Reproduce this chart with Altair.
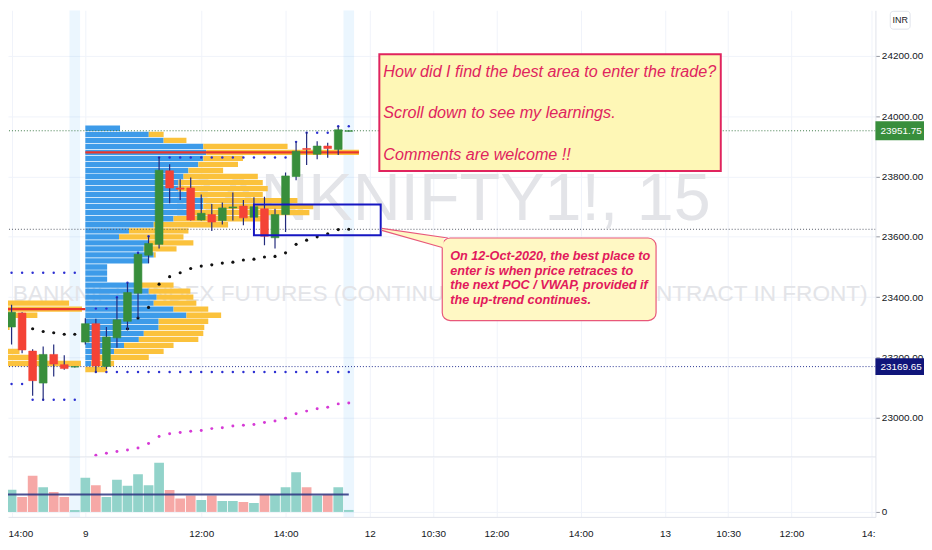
import altair as alt
import pandas as pd

N = None
# ------------------------------------------------------------------ data
# bar index: 0 = 09:15 bar of 9-Oct, negatives = 8-Oct afternoon
BAR_IDX = list(range(-8, 26))
OPEN = [23446, 23301, 23347, 23221, 23115, 23210, 23176, 23168,
        23251, 23312, 23170, 23265, 23320, 23413, 23539, 23575, 23819, 23762,
        23762, 23656, 23674, 23654, 23696, 23702, 23665, 23693, 23597, 23674,
        23800, 23893, 23874, 23901, 23890, 23950]
HIGH = [23479, 23375, 23350, 23227, 23236, 23243, 23207, 23171,
        23330, 23328, 23301, 23400, 23448, 23547, 23602, 23865, 23841, 23791,
        23797, 23740, 23709, 23714, 23747, 23722, 23731, 23733, 23693, 23813,
        23915, 23948, 23917, 23912, 23967, 23953]
LOW = [23205, 23243, 23214, 23073, 23057, 23137, 23159, 23167,
       23243, 23150, 23161, 23232, 23290, 23331, 23512, 23561, 23711, 23722,
       23654, 23654, 23619, 23641, 23654, 23638, 23632, 23572, 23561, 23616,
       23788, 23838, 23857, 23862, 23871, 23949]
CLOSE = [23309, 23350, 23225, 23123, 23210, 23178, 23163, 23169.65,
         23312, 23172, 23268, 23325, 23415, 23542, 23578, 23821, 23762, 23758,
         23656, 23678, 23649, 23696, 23699, 23663, 23700, 23602, 23674, 23802,
         23884, 23890, 23901, 23893, 23955, 23951.75]
VOLUME = [76, 45, 30, 73, 50, 40, 30, 4,
          69, 54, 30, 65, 53, 76, 54, 99, 44, 27, 33, 24, 33, 22, 22, 20, 18,
          35, 35, 50, 80, 50, 33, 35, 50, 4]
VOL_MA = [35, 35, 35, 35, 35, 35, 35, 35,
          35, 35, 35, 35, 35, 35, 35, 35, 35, 35, 35, 35, 35, 35, 35, 35, 35,
          35, 35, 35, 35, 35, 35, 35, 35, 35]
DAY_HIGH = [23481, 23481, 23481, 23481, 23481, 23481, 23481, 23481,
            N, 23362, 23362, 23400, 23448, 23547, 23602,
            23863, 23863, 23863, 23863, 23863, 23863, 23863, 23863, 23863,
            23863, 23863, 23863, 23863,
            23915, 23945, 23945, 23945, 23967, 23967]
DAY_LOW = [23112, 23112, 23112, 23060, 23060, 23060, 23060, 23060,
           N, 23152, 23152, 23152, 23152, 23152, 23152, 23152, 23152, 23152,
           23152, 23152, 23152, 23152, 23152, 23152, 23152, 23152, 23152,
           23152, 23152, 23152, 23152, 23152, 23152, 23152]
VWAP = [N, N, N, 23295, 23286, 23282, 23277, 23277,
        N, N, N, N, 23295, 23331, 23366, 23443, 23468, 23481, 23495, 23503,
        23507, 23513, 23516, 23523, 23526, 23533, 23535, 23547, 23575, 23589,
        23600, 23610, 23624, 23625]
WEEK_VWAP = [N, N, N, N, N, N, N, N,
             N, 22876, 22882, 22888, 22893, 22900, 22915, 22938, 22947, 22951,
             22955, 22958, 22964, 22967, 22973, 22975, 22978, 22984, 22989,
             22998, 23013, 23022, 23030, 23035, 23046, 23049]

# session volume profile, 9-Oct (price rows, up / down volume)
PROFILE_PRICE = [23960, 23940, 23920, 23900, 23880, 23860, 23840, 23820, 23800,
                 23780, 23760, 23740, 23720, 23700, 23680, 23660, 23640, 23620,
                 23600, 23580, 23560, 23540, 23520, 23500, 23480, 23460, 23440,
                 23420, 23400, 23380, 23360, 23340, 23320, 23300, 23280, 23260,
                 23240, 23220, 23200, 23180, 23160]
PROFILE_UP = [35, 64, 79, 119, 122, 119, 114, 104, 99, 94, 94, 104, 119, 119,
              104, 89, 69, 44, 34, 64, 59, 69, 64, 22, 22, 22, 54, 64, 72, 69,
              89, 102, 74, 74, 59, 54, 39, 29, 14, 6, 0]
PROFILE_DN = [0, 15, 23, 85, 154, 40, 40, 35, 75, 85, 90, 75, 95, 111, 122, 95,
              75, 60, 65, 45, 33, 2, 0, 0, 0, 0, 35, 42, 37, 43, 35, 35, 50, 46,
              60, 60, 50, 50, 50, 23, 22]
PROFILE_START = 0
POC_9 = 23880
# 8-Oct profile (only its longest rows reach into view)
PROFILE8_PRICE = [23380, 23360, 23340, 23300, 23220, 23200, 23180]
PROFILE8_UP = [188, 188, 188, 188, 188, 188, 188]
PROFILE8_DN = [72, 85, 40, 12, 22, 47, 84]
PROFILE8_START = -26
POC_8 = 23360
UNITS_PER_BAR = 10.63

SESSION_END_BARS = [-1, 25]
LAST_PRICE = 23951.75
PREV_CLOSE = 23169.65
VWAP_LINE = 23625

X_TICKS = [-7, 0, 11, 19, 27, 33, 39, 47, 55, 61, 67, 74.6]
X_LABELS = ["14:00", "9", "12:00", "14:00", "12", "10:30", "12:00", "14:00",
            "13", "10:30", "12:00", "14:"]
P_TICKS = [23000, 23200, 23400, 23600, 23800, 24000, 24200]
X_DOMAIN = [-7.338, 74.976]
P_DOMAIN = [22871.8, 24351.2]
V_DOMAIN = [-10, 112]

BOX_X = [16.0, 28.03]
BOX_P = [23706.9, 23604.9]
NOTE_X = [27.9, 60.3]
NOTE_P = [24205.6, 23818.6]
NOTE_LINES = ["How did I find the best area to enter the trade?",
              "Scroll down to see my learnings.",
              "Comments are welcome !!"]
NOTE_LINE_P = [24147.4, 24010.3, 23870.2]
CALL_X = [33.87, 54.16]
CALL_P = [23596.1, 23322.2]
CALL_LINES = ["On 12-Oct-2020, the best place to",
              "enter is when price retraces to",
              "the next POC / VWAP, provided if",
              "the up-trend continues."]
CALL_LINE_P = [23536.9, 23486.6, 23440.6, 23391.2]
PTR_X = [28.13, 34.01]
PTR_TOP = [23627.9, 23598.0]
PTR_BOT = [23621.4, 23563.0]
PTR_EDGE_X = [28.13, 34.40, 28.13, 33.87]
PTR_EDGE_P = [23627.9, 23596.1, 23621.4, 23564.5]
PTR_EDGE_ID = ["top", "top", "bot", "bot"]

WATERMARK_1 = "BANKNIFTY1!, 15"
WATERMARK_2 = "BANKNIFTY INDEX FUTURES (CONTINUOUS: CURRENT CONTRACT IN FRONT)"

# ------------------------------------------------------------------ style
FONT = "Liberation Sans, Arial, sans-serif"
TXT = "#131722"
GRID = "#f0f3fa"
BORDER = "#e0e3eb"
GREEN = "#388e3c"
RED = "#f44336"
TEAL = "#92d3ca"
PINK = "#f6a8a6"
WICK = "#232b7d"
CRIMSON = "#e0245e"
W, HP, HV = 875, 450, 61

XS = alt.Scale(domain=X_DOMAIN, nice=False, zero=False)
PS = alt.Scale(domain=P_DOMAIN, nice=False, zero=False)
VS = alt.Scale(domain=V_DOMAIN, nice=False, zero=False)

label_expr = "[" + ",".join("'%s'" % s for s in X_LABELS) + "][indexof([" + \
    ",".join(str(v) for v in X_TICKS) + "], datum.value)]"

AX_XP = alt.Axis(values=X_TICKS, labels=False, ticks=False, domain=True,
                 domainColor=BORDER, grid=True, gridColor=GRID, title=None,
                 minExtent=0, maxExtent=0)
AX_YP = alt.Axis(orient="right", values=P_TICKS, format=".2f",
                 labelFont=FONT, labelFontSize=10, labelColor=TXT,
                 tickColor="#9598a1", tickSize=4, labelPadding=2,
                 domain=True, domainColor=BORDER, grid=True, gridColor=GRID,
                 title=None, minExtent=49, maxExtent=49, labelOverlap=False)
AX_XV = alt.Axis(values=X_TICKS, labelExpr=label_expr, ticks=False, domain=True,
                 domainColor=BORDER, grid=True, gridColor=GRID, title=None,
                 labelFont=FONT, labelFontSize=10, labelColor=TXT,
                 labelPadding=12, labelFlush=6, labelFlushOffset=3.5,
                 labelOverlap=False, minExtent=23, maxExtent=23)
AX_YV = alt.Axis(orient="right", values=[0], labelFont=FONT, labelFontSize=10,
                 labelColor=TXT, tickColor="#9598a1", tickSize=4, labelPadding=2,
                 domain=True, domainColor=BORDER, grid=True, gridColor=GRID,
                 title=None, minExtent=49, maxExtent=49)


def xp(field):
    return alt.X(field, type="quantitative", scale=XS, axis=AX_XP)


def yp(field):
    return alt.Y(field, type="quantitative", scale=PS, axis=AX_YP)


def xv(field):
    return alt.X(field, type="quantitative", scale=XS, axis=AX_XV)


def yv(field):
    return alt.Y(field, type="quantitative", scale=VS, axis=AX_YV)


# ------------------------------------------------------------------ frames
candles = pd.DataFrame(dict(idx=BAR_IDX, open=OPEN, high=HIGH, low=LOW,
                            close=CLOSE, vol=VOLUME, ma=VOL_MA))
candles["body"] = [GREEN if c >= o else RED for o, c in zip(OPEN, CLOSE)]
candles["vcol"] = [TEAL if c >= o else PINK for o, c in zip(OPEN, CLOSE)]
candles["zero"] = 0

bands = pd.DataFrame(dict(idx=SESSION_END_BARS))


def profile_frame(prices, ups, dns, start):
    rows = []
    for p, u, d in zip(prices, ups, dns):
        rows.append(dict(price=p, xa=start, xb=start + u / UNITS_PER_BAR,
                         xc=start + (u + d) / UNITS_PER_BAR))
    return pd.DataFrame(rows)


prof = pd.concat([profile_frame(PROFILE_PRICE, PROFILE_UP, PROFILE_DN, PROFILE_START),
                  profile_frame(PROFILE8_PRICE, PROFILE8_UP, PROFILE8_DN, PROFILE8_START)])
poc = pd.DataFrame(dict(x0=[PROFILE8_START, PROFILE_START],
                        x1=[PROFILE_START, PROFILE_START + (PROFILE_UP[4] + PROFILE_DN[4]) / UNITS_PER_BAR],
                        price=[POC_8, POC_9]))


def dot_frame(arr):
    return pd.DataFrame([dict(idx=i, price=v) for i, v in zip(BAR_IDX, arr) if v is not None])


price_lines = pd.DataFrame(dict(price=[LAST_PRICE, VWAP_LINE, PREV_CLOSE],
                                col=["#3f7a49", "#555a66", "#283593"]))
one = pd.DataFrame(dict(k=[0]))

# ------------------------------------------------------------------ price pane
band_l = alt.Chart(bands).mark_rect(color="#2196f3", opacity=0.09, clip=True).encode(
    x=xp("x0:Q"), x2="x1:Q").transform_calculate(x0="datum.idx - 0.5", x1="datum.idx + 0.5")

wm1 = alt.Chart(one).mark_text(text=WATERMARK_1, font=FONT, fontSize=67,
                               color="#e3e4e8", align="center", baseline="alphabetic",
                               clip=True).encode(x=alt.value(437), y=alt.value(212))
wm2 = alt.Chart(one).mark_text(text=WATERMARK_2, font=FONT, fontSize=22.8,
                               color="#e3e4e8", align="center", baseline="alphabetic",
                               clip=True).encode(x=alt.value(436), y=alt.value(293))

prof_up = alt.Chart(prof).mark_rect(color="#3d9be9", clip=True).encode(
    x=xp("xa:Q"), x2="xb:Q", y=yp("p0:Q"), y2="p1:Q").transform_calculate(
    p0="datum.price - 8.8", p1="datum.price + 8.8")
prof_dn = alt.Chart(prof).mark_rect(color="#fbc23c", clip=True).encode(
    x=xp("xb:Q"), x2="xc:Q", y=yp("p0:Q"), y2="p1:Q").transform_calculate(
    p0="datum.price - 8.8", p1="datum.price + 8.8")
poc_l = alt.Chart(poc).mark_rule(color="#e8362c", strokeWidth=2.2, clip=True).encode(
    x=xp("x0:Q"), x2="x1:Q", y=yp("price:Q"))

plines = alt.Chart(price_lines).mark_rule(strokeDash=[1, 2], strokeWidth=1, clip=True).encode(
    y=yp("price:Q"), color=alt.Color("col:N", scale=None))

dot_mag = alt.Chart(dot_frame(WEEK_VWAP)).mark_point(filled=True, size=9, color="#d63ad6",
                                                     opacity=1, clip=True).encode(
    x=xp("idx:Q"), y=yp("price:Q"))
dot_vwap = alt.Chart(dot_frame(VWAP)).mark_point(filled=True, size=10, color="#111111",
                                                 opacity=1, clip=True).encode(
    x=xp("idx:Q"), y=yp("price:Q"))
dot_hi = alt.Chart(dot_frame(DAY_HIGH)).mark_point(filled=True, size=6, color="#2c2fd2",
                                                   opacity=1, clip=True).encode(
    x=xp("idx:Q"), y=yp("price:Q"))
dot_lo = alt.Chart(dot_frame(DAY_LOW)).mark_point(filled=True, size=6, color="#2c2fd2",
                                                  opacity=1, clip=True).encode(
    x=xp("idx:Q"), y=yp("price:Q"))

wicks = alt.Chart(candles).mark_rule(color=WICK, strokeWidth=1.2, clip=True).encode(
    x=xp("idx:Q"), y=yp("low:Q"), y2="high:Q")
bodies = alt.Chart(candles).mark_rect(strokeWidth=0.6, clip=True).encode(
    x=xp("bx0:Q"), x2="bx1:Q", y=yp("open:Q"), y2="close:Q",
    fill=alt.Color("body:N", scale=None), stroke=alt.Color("body:N", scale=None)
).transform_calculate(bx0="datum.idx - 0.37", bx1="datum.idx + 0.37")

box = alt.Chart(pd.DataFrame(dict(x0=[BOX_X[0]], x1=[BOX_X[1]], p0=[BOX_P[0]], p1=[BOX_P[1]]))
                ).mark_rect(fill="transparent", stroke="#1616c2", strokeWidth=2, clip=True).encode(
    x=xp("x0:Q"), x2="x1:Q", y=yp("p0:Q"), y2="p1:Q")

note_box = alt.Chart(pd.DataFrame(dict(x0=[NOTE_X[0]], x1=[NOTE_X[1]], p0=[NOTE_P[0]], p1=[NOTE_P[1]]))
                     ).mark_rect(fill="#fef7b6", stroke=CRIMSON, strokeWidth=2).encode(
    x=xp("x0:Q"), x2="x1:Q", y=yp("p0:Q"), y2="p1:Q")
note_txt = alt.Chart(pd.DataFrame(dict(x=[NOTE_X[0]] * 3, price=NOTE_LINE_P, t=NOTE_LINES))
                     ).mark_text(align="left", baseline="middle", dx=4, font=FONT,
                                 fontStyle="italic", fontSize=16.3, color=CRIMSON).encode(
    x=xp("x:Q"), y=yp("price:Q"), text="t:N")

call_box = alt.Chart(pd.DataFrame(dict(x0=[CALL_X[0]], x1=[CALL_X[1]], p0=[CALL_P[0]], p1=[CALL_P[1]]))
                     ).mark_rect(fill="#fff8c4", stroke="#e8587a", strokeWidth=1.2,
                                 cornerRadius=8).encode(
    x=xp("x0:Q"), x2="x1:Q", y=yp("p0:Q"), y2="p1:Q")
ptr_area = alt.Chart(pd.DataFrame(dict(x=PTR_X, top=PTR_TOP, bot=PTR_BOT))
                     ).mark_area(color="#fff8c4", opacity=1).encode(
    x=xp("x:Q"), y=yp("top:Q"), y2="bot:Q")
ptr_edges = alt.Chart(pd.DataFrame(dict(x=PTR_EDGE_X, price=PTR_EDGE_P, edge=PTR_EDGE_ID))
                      ).mark_line(color="#e8587a", strokeWidth=1.2).encode(
    x=xp("x:Q"), y=yp("price:Q"), detail="edge:N")
call_txt = alt.Chart(pd.DataFrame(dict(x=[CALL_X[0]] * 4, price=CALL_LINE_P, t=CALL_LINES))
                     ).mark_text(align="left", baseline="middle", dx=8, font=FONT,
                                 fontStyle="italic", fontWeight="bold", fontSize=12.8,
                                 color="#e2195c").encode(
    x=xp("x:Q"), y=yp("price:Q"), text="t:N")

tags = pd.DataFrame(dict(price=[LAST_PRICE, PREV_CLOSE], half=[31.2, 28.0],
                         label=["23951.75", "23169.65"], col=[GREEN, "#10157a"]))
tag_box = alt.Chart(tags).mark_rect(clip=False).encode(
    x=alt.value(875), x2=alt.value(924), y=yp("p0:Q"), y2="p1:Q",
    fill=alt.Color("col:N", scale=None)).transform_calculate(
    p0="datum.price + datum.half", p1="datum.price - datum.half")
tag_txt = alt.Chart(tags).mark_text(align="left", baseline="middle", font=FONT,
                                    fontSize=10, color="white", clip=False).encode(
    x=alt.value(880), y=yp("price:Q"), text="label:N")
inr_box = alt.Chart(one).mark_rect(fill="white", stroke=BORDER, cornerRadius=3).encode(
    x=alt.value(890), x2=alt.value(910), y=alt.value(1), y2=alt.value(19))
inr_txt = alt.Chart(one).mark_text(text="INR", font=FONT, fontSize=9, color=TXT,
                                   align="center", baseline="middle").encode(
    x=alt.value(900), y=alt.value(10))

price_pane = alt.layer(
    band_l, wm1, wm2, prof_up, prof_dn, poc_l, plines, dot_mag, dot_vwap, dot_hi,
    dot_lo, wicks, bodies, box, note_box, note_txt, call_box, ptr_area, ptr_edges,
    call_txt, tag_box, tag_txt, inr_box, inr_txt
).properties(width=W, height=HP)

# ------------------------------------------------------------------ volume pane
band_v = alt.Chart(bands).mark_rect(color="#2196f3", opacity=0.09, clip=True).encode(
    x=xv("x0:Q"), x2="x1:Q").transform_calculate(x0="datum.idx - 0.5", x1="datum.idx + 0.5")
vbars = alt.Chart(candles).mark_rect(clip=True).encode(
    x=xv("vx0:Q"), x2="vx1:Q", y=yv("vol:Q"), y2="zero:Q",
    fill=alt.Color("vcol:N", scale=None)
).transform_calculate(vx0="datum.idx - 0.46", vx1="datum.idx + 0.46")
vma = alt.Chart(candles).mark_line(color="#2a3180", strokeWidth=2, opacity=0.85, clip=True).encode(
    x=xv("idx:Q"), y=yv("ma:Q"))

vol_pane = alt.layer(band_v, vbars, vma).properties(width=W, height=HV)

chart = alt.vconcat(price_pane, vol_pane, spacing=0).properties(
    padding=0, background="white").configure_view(strokeWidth=0)

chart.save("out.html", embed_options={"renderer": "svg", "actions": False})
